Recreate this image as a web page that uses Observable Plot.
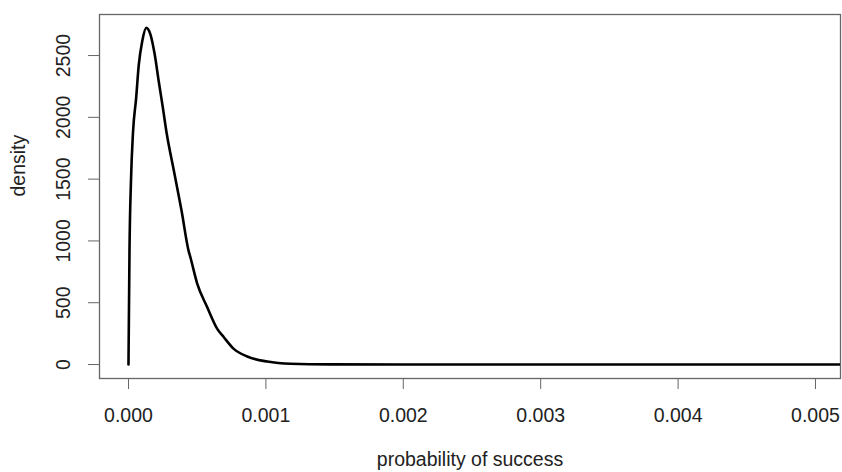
<!DOCTYPE html>
<html>
<head>
<meta charset="utf-8">
<script src="https://cdn.jsdelivr.net/npm/d3@7"></script>
<script src="https://cdn.jsdelivr.net/npm/@observablehq/plot@0.6"></script>
<style>
  html, body { margin: 0; padding: 0; background: #fff; }
  #chart svg { display: block; }
</style>
</head>
<body>
<div id="chart"></div>
<script>
// Values
const probability = [0, 0.0000073, 0.0000182, 0.0000328, 0.000056, 0.000075, 0.0001, 0.000129,
  0.00016, 0.000191, 0.00022, 0.00025, 0.000277, 0.00033, 0.000386, 0.000437, 0.000451, 0.0005,
  0.000573, 0.000646, 0.000694, 0.000766, 0.000864, 0.00101, 0.00118, 0.00147, 0.002, 0.003,
  0.004, 0.005, 0.0053];
const density = [0, 922, 1489, 1877, 2160, 2427, 2616, 2724,
  2670, 2508, 2292, 2079, 1877, 1570, 1246, 922, 866, 655,
  464, 289, 221, 127, 65, 24, 6, 1, 0, 0,
  0, 0, 0];
const xTicks = [0, 0.001, 0.002, 0.003, 0.004, 0.005];
const yTicks = [0, 500, 1000, 1500, 2000, 2500];
const xTitle = "probability of success";
const yTitle = "density";

const data = probability.map((p, i) => ({p, d: density[i]}));
const font = 19.5;

const chart = Plot.plot({
  width: 842,
  height: 472,
  marginLeft: 99,
  marginRight: 2,
  marginTop: 14,
  marginBottom: 94,
  style: {fontFamily: "'Liberation Sans', Arial, sans-serif", background: "#fff"},
  x: {domain: [-0.000211, 0.005182]},
  y: {domain: [-113, 2832]},
  marks: [
    Plot.frame({stroke: "#666", strokeWidth: 1.3}),
    Plot.axisX({ticks: xTicks, tickFormat: d3.format(".3f"), tickSize: 11, tickPadding: 19,
      fontSize: font, label: null, stroke: "#666", fill: "#222"}),
    Plot.axisY({ticks: yTicks, tickFormat: () => "", tickSize: 11, label: null, stroke: "#666"}),
    Plot.text(yTicks, {y: d => d, text: d => String(d), frameAnchor: "left", rotate: -90,
      dx: -36, textAnchor: "middle", lineAnchor: "middle", fontSize: font, fill: "#222"}),
    Plot.text([xTitle], {text: d => d, frameAnchor: "bottom", dy: 81, lineAnchor: "middle",
      fontSize: font, fill: "#222"}),
    Plot.text([yTitle], {text: d => d, frameAnchor: "left", rotate: -90, dx: -81,
      lineAnchor: "middle", fontSize: font, fill: "#222"}),
    Plot.line(data, {x: "p", y: "d", stroke: "black", strokeWidth: 2.6, curve: "monotone-x", clip: true})
  ]
});
document.getElementById("chart").appendChild(chart);
</script>
</body>
</html>
